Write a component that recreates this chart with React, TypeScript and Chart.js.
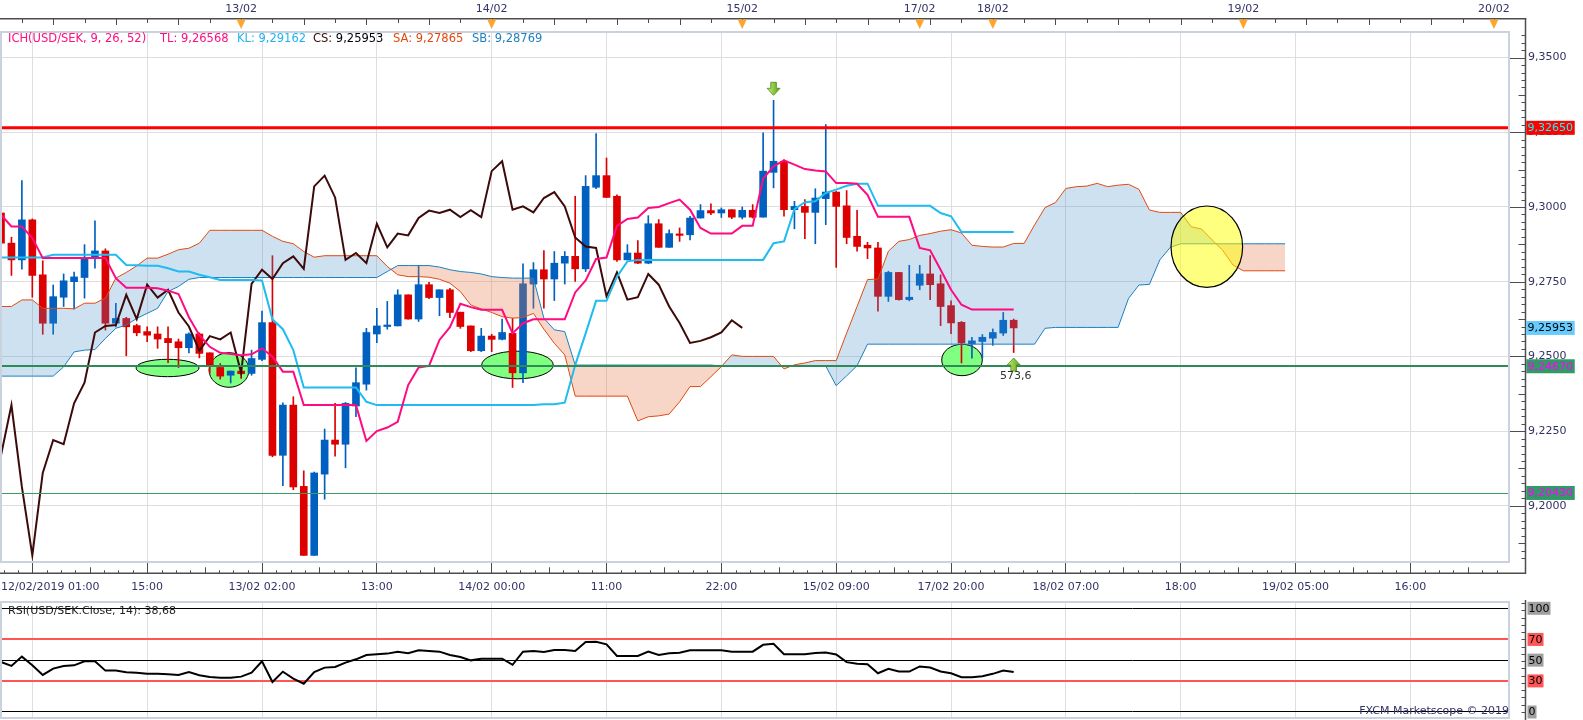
import React, { useEffect, useRef } from 'react';
import { Chart, registerables } from 'chart.js';
Chart.register(...registerables);

// ---------------- DATA ----------------
const opens = [9.2980, 9.2879, 9.2823, 9.2957, 9.2773, 9.2611, 9.2698, 9.2750, 9.2764, 9.2827,
  9.2853, 9.2611, 9.2627, 9.2603, 9.2583, 9.2575, 9.2560, 9.2549, 9.2529, 9.2575,
  9.2512, 9.2463, 9.2437, 9.2451, 9.2443, 9.2490, 9.2613, 9.2169, 9.2337, 9.2065,
  9.1834, 9.2106, 9.2220, 9.2206, 9.2334, 9.2407, 9.2575, 9.2600, 9.2602, 9.2706,
  9.2625, 9.2740, 9.2697, 9.2723, 9.2648, 9.2602, 9.2519, 9.2568, 9.2557, 9.2577,
  9.2445, 9.2742, 9.2790, 9.2759, 9.2812, 9.2835, 9.2793, 9.3066, 9.3105, 9.3036,
  9.2823, 9.2846, 9.2812, 9.2944, 9.2865, 9.2907, 9.2907, 9.2963, 9.2988, 9.2980,
  9.2991, 9.2966, 9.2989, 9.2966, 9.3116, 9.3153, 9.2991, 9.3002, 9.2982, 9.3028,
  9.3050, 9.3004, 9.2902, 9.2872, 9.2863, 9.2701, 9.2781, 9.2690, 9.2738, 9.2776,
  9.2743, 9.2670, 9.2614, 9.2542, 9.2550, 9.2561, 9.2578, 9.2621];
const highs = [9.2991, 9.2899, 9.3088, 9.2960, 9.2820, 9.2739, 9.2776, 9.2782, 9.2874, 9.2954,
  9.2860, 9.2678, 9.2631, 9.2608, 9.2599, 9.2599, 9.2599, 9.2558, 9.2579, 9.2579,
  9.2512, 9.2476, 9.2451, 9.2465, 9.2521, 9.2652, 9.2837, 9.2345, 9.2365, 9.2117,
  9.2113, 9.2257, 9.2343, 9.2346, 9.2462, 9.2594, 9.2661, 9.2684, 9.2723, 9.2706,
  9.2804, 9.2748, 9.2723, 9.2728, 9.2648, 9.2602, 9.2594, 9.2574, 9.2625, 9.2628,
  9.2810, 9.2814, 9.2854, 9.2851, 9.2851, 9.3036, 9.3105, 9.3246, 9.3164, 9.3041,
  9.2874, 9.2888, 9.2971, 9.2958, 9.2924, 9.2930, 9.2969, 9.3008, 9.3011, 9.2997,
  9.2991, 9.3000, 9.3008, 9.3248, 9.3357, 9.3158, 9.3019, 9.3025, 9.3061, 9.3276,
  9.3052, 9.3055, 9.2989, 9.2882, 9.2882, 9.2785, 9.2781, 9.2805, 9.2805, 9.2837,
  9.2773, 9.2686, 9.2617, 9.2564, 9.2573, 9.2592, 9.2647, 9.2625];
const lows = [9.2851, 9.2771, 9.2792, 9.2698, 9.2574, 9.2574, 9.2667, 9.2659, 9.2695, 9.2795,
  9.2588, 9.2599, 9.2502, 9.2569, 9.2549, 9.2527, 9.2479, 9.2463, 9.2512, 9.2495,
  9.2443, 9.2424, 9.2411, 9.2426, 9.2437, 9.2486, 9.2164, 9.2067, 9.2054, 9.1834,
  9.1834, 9.2022, 9.2166, 9.2127, 9.2298, 9.2387, 9.2546, 9.2591, 9.2602, 9.2625,
  9.2617, 9.2693, 9.2636, 9.2630, 9.2594, 9.2516, 9.2516, 9.2516, 9.2555, 9.2396,
  9.2412, 9.2661, 9.2661, 9.2687, 9.2742, 9.2751, 9.2784, 9.3061, 9.3032, 9.2818,
  9.2823, 9.2810, 9.2810, 9.2865, 9.2865, 9.2885, 9.2890, 9.2963, 9.2974, 9.2965,
  9.2961, 9.2960, 9.2963, 9.2966, 9.3064, 9.2969, 9.2927, 9.2894, 9.2877, 9.2941,
  9.2798, 9.2877, 9.2852, 9.2827, 9.2651, 9.2684, 9.2688, 9.2686, 9.2723, 9.2690,
  9.2603, 9.2576, 9.2478, 9.2494, 9.2494, 9.2537, 9.2570, 9.2513];
const closes = [9.2879, 9.2823, 9.2957, 9.2771, 9.2611, 9.2700, 9.2753, 9.2766, 9.2827, 9.2853,
  9.2611, 9.2627, 9.2599, 9.2579, 9.2571, 9.2558, 9.2546, 9.2529, 9.2575, 9.2510,
  9.2471, 9.2434, 9.2451, 9.2442, 9.2493, 9.2613, 9.2169, 9.2337, 9.2063, 9.1834,
  9.2110, 9.2220, 9.2206, 9.2343, 9.2412, 9.2580, 9.2602, 9.2605, 9.2706, 9.2625,
  9.2740, 9.2697, 9.2723, 9.2647, 9.2600, 9.2519, 9.2568, 9.2557, 9.2580, 9.2445,
  9.2743, 9.2790, 9.2759, 9.2812, 9.2835, 9.2793, 9.3069, 9.3105, 9.3032, 9.2823,
  9.2846, 9.2812, 9.2944, 9.2865, 9.2911, 9.2905, 9.2963, 9.2988, 9.2980, 9.2991,
  9.2966, 9.2989, 9.2966, 9.3120, 9.3153, 9.2991, 9.3002, 9.2982, 9.3030, 9.3050,
  9.3002, 9.2898, 9.2868, 9.2863, 9.2701, 9.2781, 9.2690, 9.2698, 9.2776, 9.2740,
  9.2667, 9.2612, 9.2545, 9.2552, 9.2564, 9.2580, 9.2621, 9.25953];

const tenkan = [9.2974, 9.2935, 9.2935, 9.2896, 9.2829, 9.2829, 9.2829, 9.2829, 9.2829, 9.2829,
  9.2829, 9.2762, 9.2730, 9.2730, 9.2730, 9.2728, 9.2720, 9.2709, 9.2631, 9.2571,
  9.2532, 9.2512, 9.2508, 9.2504, 9.2507, 9.2527, 9.2499, 9.2449, 9.2449, 9.2337,
  9.2337, 9.2337, 9.2337, 9.2337, 9.2337, 9.2217, 9.2250, 9.2262, 9.2281, 9.2404,
  9.2463, 9.2468, 9.2555, 9.2598, 9.2676, 9.2665, 9.2656, 9.2656, 9.2656, 9.2577,
  9.2611, 9.2624, 9.2624, 9.2624, 9.2624, 9.2714, 9.2754, 9.2826, 9.2831, 9.2937,
  9.2960, 9.2965, 9.2997, 9.3000, 9.3013, 9.3025, 9.2991, 9.2930, 9.2911, 9.2911,
  9.2911, 9.2937, 9.2937, 9.3095, 9.3136, 9.3156, 9.3142, 9.3127, 9.3122, 9.3119,
  9.3080, 9.3080, 9.3078, 9.3041, 9.2967, 9.2967, 9.2967, 9.2967, 9.2863, 9.2855,
  9.2790, 9.2723, 9.2673, 9.26568, 9.26568, 9.26568, 9.26568, 9.26568];
const kijun = [9.2831, 9.2831, 9.2831, 9.2831, 9.2831, 9.2840, 9.2840, 9.2840, 9.2840, 9.2840,
  9.2840, 9.2840, 9.2806, 9.2805, 9.2803, 9.2803, 9.2795, 9.2784, 9.2784, 9.2773,
  9.2765, 9.2756, 9.2756, 9.2756, 9.2756, 9.2754, 9.2624, 9.2591, 9.2521, 9.2396,
  9.2396, 9.2396, 9.2396, 9.2396, 9.2396, 9.2348, 9.2337, 9.2337, 9.2337, 9.2337,
  9.2337, 9.2337, 9.2337, 9.2337, 9.2337, 9.2337, 9.2337, 9.2337, 9.2337, 9.2337,
  9.2337, 9.2337, 9.2340, 9.2340, 9.2345, 9.2471, 9.2577, 9.2686, 9.2686, 9.2767,
  9.2818, 9.2823, 9.2823, 9.2823, 9.2823, 9.2823, 9.2823, 9.2823, 9.2823, 9.2823,
  9.2823, 9.2823, 9.2823, 9.2823, 9.2879, 9.2885, 9.2993, 9.3016, 9.3019, 9.3047,
  9.3058, 9.3071, 9.3078, 9.3078, 9.3004, 9.3004, 9.3004, 9.3004, 9.3004, 9.3004,
  9.2980, 9.2969, 9.29162, 9.29162, 9.29162, 9.29162, 9.29162, 9.29162];
const chikou = [9.2169, 9.2337, 9.2063, 9.1834, 9.2110, 9.2220, 9.2206, 9.2343, 9.2412, 9.2580,
  9.2602, 9.2605, 9.2706, 9.2625, 9.2740, 9.2697, 9.2723, 9.2647, 9.2600, 9.2519,
  9.2568, 9.2557, 9.2580, 9.2445, 9.2743, 9.2790, 9.2759, 9.2812, 9.2835, 9.2793,
  9.3069, 9.3105, 9.3032, 9.2823, 9.2846, 9.2812, 9.2944, 9.2865, 9.2911, 9.2905,
  9.2963, 9.2988, 9.2980, 9.2991, 9.2966, 9.2989, 9.2966, 9.3120, 9.3153, 9.2991,
  9.3002, 9.2982, 9.3030, 9.3050, 9.3002, 9.2898, 9.2868, 9.2863, 9.2701, 9.2781,
  9.2690, 9.2698, 9.2776, 9.2740, 9.2667, 9.2612, 9.2545, 9.2552, 9.2564, 9.2580,
  9.2621, 9.25953];
const senkouA = [9.2667, 9.2667, 9.2689, 9.2689, 9.2661, 9.2661, 9.2661, 9.2659, 9.2678, 9.2678,
  9.2695, 9.2762, 9.2781, 9.2803, 9.2829, 9.2829, 9.2842, 9.2857, 9.2862, 9.2879,
  9.2922, 9.2922, 9.2922, 9.2922, 9.2922, 9.2922, 9.2902, 9.2885, 9.2877, 9.2851,
  9.2832, 9.2837, 9.2837, 9.2837, 9.2837, 9.2837, 9.2837, 9.2801, 9.2773, 9.2767,
  9.2767, 9.2765, 9.2758, 9.2745, 9.2717, 9.2672, 9.2659, 9.2647, 9.2633, 9.2628,
  9.2630, 9.2644, 9.2591, 9.2544, 9.2505, 9.2367, 9.2367, 9.2367, 9.2367, 9.2367,
  9.2367, 9.2284, 9.2298, 9.2301, 9.2307, 9.2348, 9.2399, 9.2399, 9.2432, 9.2466,
  9.2505, 9.2500, 9.2500, 9.2500, 9.2500, 9.2458, 9.2472, 9.2478, 9.2486, 9.2486,
  9.2486, 9.2578, 9.2667, 9.2757, 9.2759, 9.2852, 9.2885, 9.2891, 9.2905, 9.2911,
  9.2919, 9.2924, 9.2913, 9.2872, 9.2868, 9.2866, 9.2866, 9.2878, 9.2878, 9.2940,
  9.2998, 9.3015, 9.3062, 9.3068, 9.3070, 9.3079, 9.3068, 9.3073, 9.3076, 9.3059,
  9.2990, 9.2982, 9.2982, 9.2982, 9.2934, 9.2926, 9.2890, 9.2856, 9.2806, 9.27865,
  9.27865, 9.27865, 9.27865, 9.27865];
const senkouB = [9.2434, 9.2434, 9.2434, 9.2434, 9.2434, 9.2434, 9.2465, 9.2515, 9.2521, 9.2523,
  9.2560, 9.2594, 9.2605, 9.2627, 9.2644, 9.2661, 9.2717, 9.2734, 9.2758, 9.2764,
  9.2764, 9.2764, 9.2764, 9.2764, 9.2764, 9.2764, 9.2764, 9.2764, 9.2764, 9.2764,
  9.2764, 9.2764, 9.2764, 9.2764, 9.2764, 9.2764, 9.2764, 9.2784, 9.2804, 9.2804,
  9.2804, 9.2804, 9.2799, 9.2790, 9.2784, 9.2781, 9.2776, 9.2767, 9.2764, 9.2762,
  9.2762, 9.2762, 9.2628, 9.2589, 9.2583, 9.2471, 9.2471, 9.2471, 9.2471, 9.2471,
  9.2471, 9.2471, 9.2471, 9.2471, 9.2471, 9.2471, 9.2471, 9.2471, 9.2471, 9.2468,
  9.2468, 9.2468, 9.2468, 9.2468, 9.2468, 9.2468, 9.2468, 9.2468, 9.2468, 9.2468,
  9.2402, 9.2435, 9.2469, 9.2541, 9.2541, 9.2541, 9.2541, 9.2541, 9.2541, 9.2541,
  9.2541, 9.2541, 9.2541, 9.2541, 9.2541, 9.2541, 9.2541, 9.2541, 9.2541, 9.2541,
  9.2594, 9.2597, 9.2597, 9.2597, 9.2597, 9.2597, 9.2597, 9.2597, 9.2694, 9.2739,
  9.2741, 9.2823, 9.2865, 9.28769, 9.28769, 9.28769, 9.28769, 9.28769, 9.28769, 9.28769,
  9.28769, 9.28769, 9.28769, 9.28769];

const rsi = [48.2, 44.4, 53.4, 45.0, 35.7, 41.8, 44.4, 45.0, 48.9, 48.9,
  39.9, 39.9, 38.3, 37.9, 37.0, 37.0, 36.3, 35.7, 38.6, 35.4,
  33.8, 33.1, 33.1, 34.1, 37.9, 48.9, 28.9, 38.9, 32.2, 27.3,
  38.6, 42.8, 43.4, 47.6, 50.8, 55.0, 55.6, 56.3, 58.2, 56.6,
  59.5, 58.8, 58.2, 55.0, 53.1, 49.8, 51.4, 51.4, 51.4, 45.5,
  58.2, 58.8, 57.9, 59.8, 59.8, 58.8, 67.5, 67.8, 65.3, 54.0,
  54.0, 54.0, 58.2, 55.0, 56.6, 57.2, 59.5, 59.5, 59.5, 59.5,
  58.2, 58.2, 58.2, 64.8, 65.8, 55.8, 55.8, 55.8, 56.8, 57.4,
  55.5, 48.1, 46.5, 46.1, 37.4, 41.6, 39.0, 39.0, 43.9, 42.9,
  39.0, 37.4, 33.5, 33.5, 34.5, 36.8, 40.0, 38.68];

const resistanceLevels = [9.3265];
const supportLevels = [9.2467, 9.2043];
const priceTicks = [9.20, 9.225, 9.25, 9.275, 9.30, 9.325, 9.35];
const rsiTicks = [0, 30, 50, 70, 100];
const bottomTickIdx = [0, 3, 14, 25, 36, 47, 58, 69, 80, 91, 102, 113, 124, 135, 144];
const bottomTickLabels = ['12/02/2019 01:00', '', '15:00', '13/02 02:00', '13:00', '14/02 00:00', '11:00', '22:00',
  '15/02 09:00', '17/02 20:00', '18/02 07:00', '18:00', '19/02 05:00', '16:00', ''];
const gridIdx = [3, 14, 25, 36, 47, 58, 69, 80, 91, 102, 113, 124, 135];
const dayIdx = [23, 47, 71, 88, 95, 119, 143];
const dayLabels = ['13/02', '14/02', '15/02', '17/02', '18/02', '19/02', '20/02'];

// annotations (data coordinates)
const greenMarks = [
  { i: 15.95, v: 9.24612, rx: 31.5, ry: 8.7 },
  { i: 21.84, v: 9.24545, rx: 20, ry: 17.3 },
  { i: 49.47, v: 9.24712, rx: 35.8, ry: 13.8 },
  { i: 92.05, v: 9.2488, rx: 20.3, ry: 15.7 },
];
const yellowMark = { i: 115.5, v: 9.28671, rx: 35.8, ry: 40.7 };
const signals = [{ i: 74, dir: 'down', text: '' }, { i: 97, dir: 'up', text: '573,6' }];

// ---------------- STYLE ----------------
const X_MIN = -0.0958, X_MAX = 144.54;
const Y_MIN = 9.181191, Y_MAX = 9.358902;
const R_MIN = -5.79, R_MAX = 106.08;
const FONT = '"DejaVu Sans", Verdana, sans-serif';
const AXIS_TXT = '#333366';
const GRID = '#DEDEDE';
const AXIS_LINE = '#4D4D4D';
const FRAME = '#C9D2DD';
const UP = '#0060C0';
const DOWN = '#DD0000';

const fmt5 = (v: number) => v.toFixed(5).replace('.', ',');
const pts = (arr: number[]) => arr.map((y, x) => ({ x, y }));
const isEdge = (v: any) => v === bottomTickIdx[0] || v === bottomTickIdx[bottomTickIdx.length - 1];
const noPadX = (h: number) => (s: any) => { s.height = h; s.paddingLeft = 0; s.paddingRight = 0; };
const noPadY = (w: number) => (s: any) => { s.width = w; s.paddingTop = 0; s.paddingBottom = 0; };

function drawArrow(ctx: CanvasRenderingContext2D, x: number, tipY: number, dir: number) {
  const len = 13, head = 7, hw = 6.5, sw = 2.8;
  const tail = tipY - dir * len, neck = tipY - dir * head;
  const g = ctx.createLinearGradient(x - hw, 0, x + hw, 0);
  g.addColorStop(0, '#C8F276');
  g.addColorStop(1, '#5C9C1A');
  ctx.beginPath();
  ctx.moveTo(x - sw, tail);
  ctx.lineTo(x + sw, tail);
  ctx.lineTo(x + sw, neck);
  ctx.lineTo(x + hw, neck);
  ctx.lineTo(x, tipY);
  ctx.lineTo(x - hw, neck);
  ctx.lineTo(x - sw, neck);
  ctx.closePath();
  ctx.fillStyle = g;
  ctx.fill();
  ctx.strokeStyle = '#4A8A16';
  ctx.lineWidth = 0.8;
  ctx.stroke();
}

function hline(ctx: CanvasRenderingContext2D, x1: number, y1: number, x2: number, y2: number) {
  ctx.beginPath();
  ctx.moveTo(x1, y1);
  ctx.lineTo(x2, y2);
  ctx.stroke();
}

const mainDecor = {
  id: 'mainDecor',
  beforeDatasetsDraw(chart: any) {
    const { ctx, chartArea: a, scales: { x, y } } = chart;
    ctx.save();
    ctx.beginPath();
    ctx.rect(a.left, a.top, a.right - a.left, a.bottom - a.top);
    ctx.clip();
    greenMarks.forEach((m) => {
      ctx.beginPath();
      ctx.ellipse(x.getPixelForValue(m.i), y.getPixelForValue(m.v), m.rx, m.ry, 0, 0, Math.PI * 2);
      ctx.fillStyle = '#80FF80';
      ctx.fill();
      ctx.lineWidth = 1;
      ctx.strokeStyle = '#000';
      ctx.stroke();
    });
    ctx.restore();
  },
  afterDatasetsDraw(chart: any) {
    const { ctx, chartArea: a, scales: { x, y } } = chart;
    ctx.save();
    ctx.beginPath();
    ctx.rect(a.left, a.top, a.right - a.left, a.bottom - a.top);
    ctx.clip();
    resistanceLevels.forEach((v) => {
      ctx.strokeStyle = '#FF0000';
      ctx.lineWidth = 3;
      const py = y.getPixelForValue(v);
      hline(ctx, a.left, py, a.right, py);
    });
    supportLevels.forEach((v, k) => {
      ctx.strokeStyle = k === 0 ? '#2E8B57' : '#3C9A64';
      ctx.lineWidth = k === 0 ? 2 : 1;
      const py = Math.round(y.getPixelForValue(v)) + (k === 0 ? 0 : 0.5);
      hline(ctx, a.left, py, a.right, py);
    });
    ctx.beginPath();
    ctx.ellipse(x.getPixelForValue(yellowMark.i), y.getPixelForValue(yellowMark.v), yellowMark.rx, yellowMark.ry, 0, 0, Math.PI * 2);
    ctx.fillStyle = 'rgba(255,255,0,0.5)';
    ctx.fill();
    ctx.strokeStyle = '#000';
    ctx.lineWidth = 1.2;
    ctx.stroke();
    signals.forEach((s) => {
      const px = x.getPixelForValue(s.i);
      if (s.dir === 'down') {
        const tip = y.getPixelForValue(highs[s.i]) - 5;
        drawArrow(ctx, px, tip, 1);
      } else {
        const tip = y.getPixelForValue(lows[s.i]) + 5.5;
        drawArrow(ctx, px, tip, -1);
        if (s.text) {
          ctx.font = '11px ' + FONT;
          ctx.fillStyle = '#333333';
          ctx.textAlign = 'center';
          ctx.textBaseline = 'middle';
          ctx.fillText(s.text, px + 2, tip + 18);
        }
      }
    });
    ctx.restore();
  },
  afterDraw(chart: any) {
    const { ctx, chartArea: a, scales: { x, y } } = chart;
    ctx.save();
    ctx.strokeStyle = FRAME;
    ctx.lineWidth = 2;
    ctx.strokeRect(a.left + 1, a.top + 1, a.right - a.left - 2, a.bottom - a.top - 1);
    const axisX = a.right + 15.5;
    const botY = a.bottom + 11.25;
    ctx.strokeStyle = AXIS_LINE;
    ctx.lineWidth = 1.5;
    hline(ctx, 0, 18.75, axisX + 0.75, 18.75);
    hline(ctx, axisX, 18, axisX, botY + 0.75);
    hline(ctx, 0, botY, axisX, botY);
    ctx.lineWidth = 1;
    // major price ticks
    y.ticks.forEach((t: any) => {
      const py = Math.round(y.getPixelForValue(t.value)) + 0.5;
      hline(ctx, a.right, py, axisX, py);
    });
    // top axis ticks
    for (let i = 2; i <= 144; i += 3) {
      const px = Math.round(x.getPixelForValue(i)) + 0.5;
      const len = i % 6 === 5 ? 6 : 4;
      hline(ctx, px, 19, px, 19 + len);
    }
    // bottom minor ticks
    for (let k = gridIdx[0] - 11; k < 145; k += 11) {
      for (let j = 1; j < 8; j++) {
        const v = k + (j * 11) / 8;
        if (v < 0 || v > 144.3) continue;
        const px = Math.round(x.getPixelForValue(v)) + 0.5;
        const len = j === 4 ? 6 : 3;
        hline(ctx, px, botY - len, px, botY);
      }
    }
    // right minor ticks
    for (let n = Math.ceil(Y_MIN / 0.0025); n * 0.0025 <= Y_MAX; n++) {
      if (n % 10 === 0) continue;
      const py = Math.round(y.getPixelForValue(n * 0.0025)) + 0.5;
      const len = n % 5 === 0 ? 7 : 4;
      hline(ctx, axisX - len, py, axisX, py);
    }
    // day markers
    dayIdx.forEach((i) => {
      const px = x.getPixelForValue(i);
      ctx.beginPath();
      ctx.moveTo(px - 4.5, 19.5);
      ctx.lineTo(px + 4.5, 19.5);
      ctx.lineTo(px, 29);
      ctx.closePath();
      ctx.fillStyle = '#FFA52A';
      ctx.fill();
    });
    // price tags
    const tags = [
      { v: resistanceLevels[0], bg: '#FF0000', fg: '#00FFFF' },
      { v: closes[closes.length - 1], bg: '#66CCFF', fg: '#000000' },
      { v: supportLevels[0], bg: '#339966', fg: '#FF00FF' },
      { v: supportLevels[1], bg: '#339966', fg: '#FF00FF' },
    ];
    ctx.font = '11px ' + FONT;
    ctx.textBaseline = 'middle';
    ctx.textAlign = 'left';
    tags.forEach((t) => {
      const py = y.getPixelForValue(t.v);
      const txt = fmt5(t.v);
      const w = ctx.measureText(txt).width + 3;
      ctx.fillStyle = t.bg;
      ctx.fillRect(axisX + 0.75, py - 7, w, 14);
      ctx.fillStyle = t.fg;
      ctx.fillText(txt, axisX + 2, py + 0.5);
    });
    // legend
    const legend = [
      { x: 8, parts: [['ICH(USD/SEK, 9, 26, 52)', '#FF0F80']] },
      { x: 160, parts: [['TL: ' + fmt5(tenkan[tenkan.length - 1]), '#FF0F80']] },
      { x: 237, parts: [['KL: ' + fmt5(kijun[kijun.length - 1]), '#1EB4F0']] },
      { x: 313, parts: [['CS: ', '#3C0A0A'], [fmt5(chikou[chikou.length - 1]), '#000000']] },
      { x: 393, parts: [['SA: ' + fmt5(senkouA[senkouA.length - 1]), '#E04A10']] },
      { x: 472, parts: [['SB: ' + fmt5(senkouB[senkouB.length - 1]), '#1F80C0']] },
    ];
    ctx.font = '11.5px ' + FONT;
    legend.forEach((seg) => {
      let cx = seg.x;
      seg.parts.forEach(([txt, col]) => {
        ctx.fillStyle = col;
        ctx.fillText(txt, cx, 39.5);
        cx += ctx.measureText(txt).width;
      });
    });
    ctx.restore();
  },
};

const rsiDecor = {
  id: 'rsiDecor',
  afterDraw(chart: any) {
    const { ctx, chartArea: a, scales: { y } } = chart;
    ctx.save();
    ctx.strokeStyle = FRAME;
    ctx.lineWidth = 2;
    ctx.strokeRect(a.left + 1, a.top, a.right - a.left - 2, a.bottom - a.top);
    const axisX = a.right + 15.5;
    ctx.strokeStyle = AXIS_LINE;
    ctx.lineWidth = 1.5;
    hline(ctx, axisX, 2, axisX, chart.height);
    ctx.lineWidth = 1;
    for (let r = 0; r <= 105; r += 7) {
      const py = Math.round(y.getPixelForValue(r)) + 0.5;
      hline(ctx, axisX - 4, py, axisX, py);
    }
    ctx.font = '11px ' + FONT;
    ctx.textBaseline = 'middle';
    ctx.textAlign = 'left';
    rsiTicks.forEach((v) => {
      const py = y.getPixelForValue(v);
      const txt = String(v);
      const w = ctx.measureText(txt).width + 2;
      ctx.fillStyle = v === 30 || v === 70 ? '#FF5555' : '#A0A0A0';
      ctx.fillRect(axisX + 2, py - 6.5, w, 13);
      ctx.fillStyle = '#000';
      ctx.fillText(txt, axisX + 3, py + 0.5);
    });
    ctx.fillStyle = '#222222';
    ctx.fillText('RSI(USD/SEK.Close, 14): ' + rsi[rsi.length - 1].toFixed(2).replace('.', ','), 8, 13);
    ctx.fillStyle = AXIS_TXT;
    ctx.textAlign = 'right';
    ctx.fillText('FXCM Marketscope \u00A9 2019', a.right - 1, 113);
    ctx.restore();
  },
};

function mainConfig(): any {
  const idx = opens.map((_, i) => i);
  const colors = idx.map((i) => (closes[i] >= opens[i] ? UP : DOWN));
  return {
    type: 'line',
    data: {
      datasets: [
        { type: 'line', label: 'TL', data: pts(tenkan), borderColor: '#FF0A80', borderWidth: 2, pointRadius: 0, tension: 0, fill: false, order: 1 },
        { type: 'line', label: 'KL', data: pts(kijun), borderColor: '#1EBCF0', borderWidth: 2, pointRadius: 0, tension: 0, fill: false, order: 2 },
        { type: 'line', label: 'CS', data: pts(chikou), borderColor: '#3C0A0A', borderWidth: 2, pointRadius: 0, tension: 0, fill: false, order: 3 },
        { type: 'line', label: 'SB', data: pts(senkouB), borderColor: '#1A80C0', borderWidth: 1, pointRadius: 0, tension: 0, fill: false, order: 4 },
        {
          type: 'line', label: 'SA', data: pts(senkouA), borderColor: '#E04A10', borderWidth: 1, pointRadius: 0, tension: 0,
          fill: { target: 3, above: 'rgba(60,140,200,0.26)', below: 'rgba(230,120,70,0.3)' }, order: 5,
        },
        {
          type: 'bar', label: 'body', data: idx.map((i) => ({ x: i, y: [opens[i], closes[i]] })),
          backgroundColor: colors, barThickness: 7, grouped: false, minBarLength: 1.5, borderWidth: 0, order: 6,
        },
        {
          type: 'bar', label: 'wick', data: idx.map((i) => ({ x: i, y: [lows[i], highs[i]] })),
          backgroundColor: colors, barThickness: 1, grouped: false, borderWidth: 0, order: 7,
        },
      ],
    },
    options: {
      animation: false,
      responsive: false,
      events: [],
      layout: { padding: 0, autoPadding: false },
      plugins: { legend: { display: false }, tooltip: { enabled: false }, title: { display: false } },
      scales: {
        x: {
          type: 'linear', position: 'bottom', min: X_MIN, max: X_MAX, offset: false,
          afterBuildTicks: (s: any) => { s.ticks = bottomTickIdx.map((v) => ({ value: v })); },
          afterFit: noPadX(36),
          grid: {
            color: (c: any) => (c.tick && isEdge(c.tick.value) ? 'rgba(0,0,0,0)' : GRID),
            tickColor: (c: any) => (c.tick && isEdge(c.tick.value) ? 'rgba(0,0,0,0)' : AXIS_LINE),
            tickLength: 11, lineWidth: 1, drawTicks: true, offset: false,
          },
          border: { display: false },
          ticks: {
            autoSkip: false, maxRotation: 0, minRotation: 0, align: 'inner', padding: 8,
            color: AXIS_TXT, font: { family: FONT, size: 11 },
            callback: (_v: any, i: number) => bottomTickLabels[i],
          },
        },
        x2: {
          type: 'linear', position: 'top', min: X_MIN, max: X_MAX, offset: false,
          afterBuildTicks: (s: any) => { s.ticks = dayIdx.map((v) => ({ value: v })); },
          afterFit: noPadX(31),
          grid: { drawOnChartArea: false, drawTicks: true, tickLength: 12, color: 'rgba(0,0,0,0)' },
          border: { display: false },
          ticks: {
            autoSkip: false, maxRotation: 0, minRotation: 0, padding: 3,
            color: AXIS_TXT, font: { family: FONT, size: 11 },
            callback: (_v: any, i: number) => dayLabels[i],
          },
        },
        y: {
          type: 'linear', position: 'right', min: Y_MIN, max: Y_MAX,
          afterBuildTicks: (s: any) => { s.ticks = priceTicks.map((v) => ({ value: v })); },
          afterFit: noPadY(73),
          grid: { color: GRID, drawTicks: false, lineWidth: 1 },
          border: { display: false },
          ticks: {
            padding: 18, color: AXIS_TXT, font: { family: FONT, size: 11 },
            callback: (v: number) => v.toFixed(4).replace('.', ','),
          },
        },
      },
    },
    plugins: [mainDecor],
  };
}

function rsiConfig(): any {
  return {
    type: 'line',
    data: {
      datasets: [
        { label: 'RSI', data: pts(rsi), borderColor: '#000000', borderWidth: 2, pointRadius: 0, tension: 0, fill: false },
      ],
    },
    options: {
      animation: false,
      responsive: false,
      events: [],
      layout: { padding: { top: 4, left: 0, right: 0, bottom: 0 }, autoPadding: false },
      plugins: { legend: { display: false }, tooltip: { enabled: false } },
      scales: {
        x: {
          type: 'linear', min: X_MIN, max: X_MAX, offset: false,
          afterBuildTicks: (s: any) => { s.ticks = gridIdx.map((v) => ({ value: v })); },
          afterFit: noPadX(2),
          grid: { color: GRID, drawTicks: false },
          border: { display: false },
          ticks: { display: false },
        },
        y: {
          type: 'linear', position: 'right', min: R_MIN, max: R_MAX,
          afterBuildTicks: (s: any) => { s.ticks = rsiTicks.map((v) => ({ value: v })); },
          afterFit: noPadY(73),
          grid: {
            color: (c: any) => (c.tick && (c.tick.value === 30 || c.tick.value === 70) ? '#FF5555' : '#000000'),
            lineWidth: (c: any) => (c.tick && (c.tick.value === 30 || c.tick.value === 70) ? 2 : 1),
            drawTicks: false,
          },
          border: { display: false },
          ticks: { display: false },
        },
      },
    },
    plugins: [rsiDecor],
  };
}

export default function App() {
  const mainRef = useRef<HTMLCanvasElement>(null);
  const rsiRef = useRef<HTMLCanvasElement>(null);
  useEffect(() => {
    document.body.style.margin = '0';
    Chart.defaults.font.family = FONT;
    Chart.defaults.font.size = 11;
    const c1 = new Chart(mainRef.current as HTMLCanvasElement, mainConfig());
    const c2 = new Chart(rsiRef.current as HTMLCanvasElement, rsiConfig());
    return () => {
      c1.destroy();
      c2.destroy();
    };
  }, []);
  return (
    <div style={{ position: 'relative', width: 1583, height: 720, background: '#ffffff', overflow: 'hidden' }}>
      <canvas ref={mainRef} width={1583} height={598} style={{ position: 'absolute', left: 0, top: 0, width: 1583, height: 598 }} />
      <canvas ref={rsiRef} width={1583} height={122} style={{ position: 'absolute', left: 0, top: 598, width: 1583, height: 122 }} />
    </div>
  );
}
